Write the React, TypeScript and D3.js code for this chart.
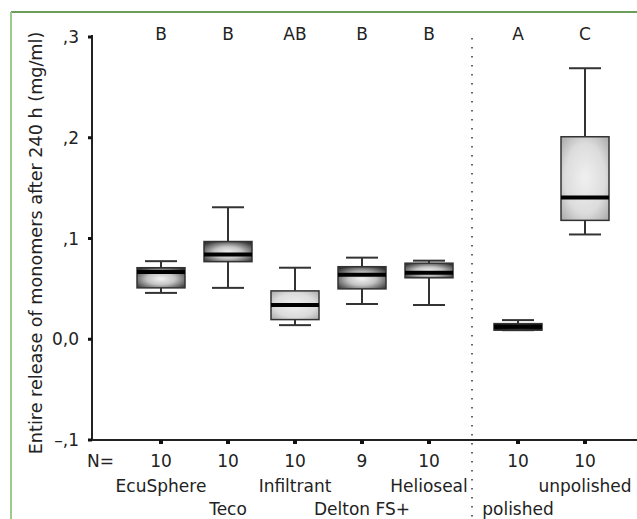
import React from "react";
import * as d3 from "d3";

const categories = ["EcuSphere", "Teco", "Infiltrant", "Delton FS+", "Helioseal", "polished", "unpolished"];
const nValues = ["10", "10", "10", "9", "10", "10", "10"];
const groupLetters = ["B", "B", "AB", "B", "B", "A", "C"];
const whiskerLow = [0.046, 0.051, 0.014, 0.035, 0.034, 0.009, 0.104];
const q1 = [0.051, 0.077, 0.0195, 0.05, 0.061, 0.009, 0.118];
const medians = [0.0667, 0.084, 0.034, 0.064, 0.066, 0.0125, 0.1406];
const q3 = [0.071, 0.097, 0.048, 0.072, 0.0755, 0.0155, 0.201];
const whiskerHigh = [0.0775, 0.131, 0.071, 0.081, 0.078, 0.019, 0.269];
const fillStyle = ["dark", "dark", "light", "dark", "dark", "black", "light"];
const yTicks = [-0.1, 0, 0.1, 0.2, 0.3];
const yTickLabels = ["\u2013,1", "0,0", ",1", ",2", ",3"];
const labelRow = [1, 2, 1, 2, 1, 2, 1];

const W = 637;
const H = 519;
const FONT = "'DejaVu Sans', sans-serif";
const FS = 17;

export default function App() {
  const y = d3.scaleLinear().domain([-0.1, 0.3]).range([440, 37]);
  const xPos = [161, 228, 295, 362, 429, 518, 585];
  const x = d3.scaleOrdinal<string, number>().domain(categories).range(xPos);
  const boxW = 48;
  const capW = 32;

  return (
    <svg width={W} height={H} style={{ position: "absolute", left: 0, top: 0, background: "#fff" }}>
      <defs>
        <radialGradient id="g-dark" cx="50%" cy="55%" r="65%">
          <stop offset="0%" stopColor="#f4f4f4" />
          <stop offset="45%" stopColor="#c4c4c4" />
          <stop offset="100%" stopColor="#333" />
        </radialGradient>
        <radialGradient id="g-light" cx="50%" cy="50%" r="70%">
          <stop offset="0%" stopColor="#f0f0f0" />
          <stop offset="60%" stopColor="#dcdcdc" />
          <stop offset="100%" stopColor="#a8a8a8" />
        </radialGradient>
        <linearGradient id="g-black" x1="0" x2="1" y1="0" y2="0">
          <stop offset="0%" stopColor="#111" />
          <stop offset="50%" stopColor="#333" />
          <stop offset="100%" stopColor="#111" />
        </linearGradient>
      </defs>
      <rect x={0} y={0} width={W} height={H} fill="#fff" />
      {/* frame */}
      <line x1={11} x2={W} y1={12} y2={12} stroke="#3d7d25" strokeWidth={1.5} />
      <line x1={11} x2={11} y1={12} y2={H} stroke="#9cc98c" strokeWidth={2} />

      {/* y axis title */}
      <text
        transform={`translate(42, 243) rotate(-90)`}
        textAnchor="middle"
        fontFamily={FONT}
        fontSize={17.6}
        fill="#222"
      >
        Entire release of monomers after 240 h (mg/ml)
      </text>

      {/* axes */}
      <line x1={92} x2={92} y1={y(0.3) - 2} y2={440} stroke="#222" strokeWidth={2} />
      <line x1={91} x2={W} y1={440} y2={440} stroke="#222" strokeWidth={2} />
      {yTicks.map((t, i) => (
        <g key={"yt" + i}>
          <rect x={88} y={y(t) - 1.5} width={4} height={3} fill="#111" />
          <text x={79} y={y(t) + 6} textAnchor="end" fontFamily={FONT} fontSize={FS} fill="#222">
            {yTickLabels[i]}
          </text>
        </g>
      ))}
      {categories.map((c) => (
        <rect key={"xt" + c} x={x(c) - 2} y={440} width={4} height={4} fill="#111" />
      ))}

      {/* dotted separator */}
      <line
        x1={472}
        x2={472}
        y1={38}
        y2={H}
        stroke="#666"
        strokeWidth={2}
        strokeDasharray="1.5 7.5"
      />

      {/* boxes */}
      {categories.map((c, i) => {
        const cx = x(c);
        const fill = fillStyle[i] === "dark" ? "url(#g-dark)" : fillStyle[i] === "light" ? "url(#g-light)" : "url(#g-black)";
        return (
          <g key={"b" + c}>
            <line x1={cx} x2={cx} y1={y(whiskerHigh[i])} y2={y(q3[i])} stroke="#333" strokeWidth={2} />
            <line x1={cx} x2={cx} y1={y(q1[i])} y2={y(whiskerLow[i])} stroke="#333" strokeWidth={2} />
            <line x1={cx - capW / 2} x2={cx + capW / 2} y1={y(whiskerHigh[i])} y2={y(whiskerHigh[i])} stroke="#333" strokeWidth={2} />
            <line x1={cx - capW / 2} x2={cx + capW / 2} y1={y(whiskerLow[i])} y2={y(whiskerLow[i])} stroke="#333" strokeWidth={2} />
            <rect
              x={cx - boxW / 2}
              y={y(q3[i])}
              width={boxW}
              height={Math.max(3, y(q1[i]) - y(q3[i]))}
              fill={fill}
              stroke="#333"
              strokeWidth={1.5}
            />
            <line x1={cx - boxW / 2} x2={cx + boxW / 2} y1={y(medians[i])} y2={y(medians[i])} stroke="#000" strokeWidth={4} />
          </g>
        );
      })}

      {/* group letters */}
      {categories.map((c, i) => (
        <text key={"l" + c} x={x(c)} y={40} textAnchor="middle" fontFamily={FONT} fontSize={FS} fill="#222">
          {groupLetters[i]}
        </text>
      ))}

      {/* N row */}
      <text x={87} y={467} fontFamily={FONT} fontSize={FS} fill="#222">N=</text>
      {categories.map((c, i) => (
        <text key={"n" + c} x={x(c)} y={467} textAnchor="middle" fontFamily={FONT} fontSize={FS} fill="#222">
          {nValues[i]}
        </text>
      ))}
      {categories.map((c, i) => (
        <text
          key={"c" + c}
          x={x(c)}
          y={labelRow[i] === 1 ? 492 : 515}
          textAnchor="middle"
          fontFamily={FONT}
          fontSize={FS}
          fill="#222"
        >
          {c}
        </text>
      ))}
    </svg>
  );
}
